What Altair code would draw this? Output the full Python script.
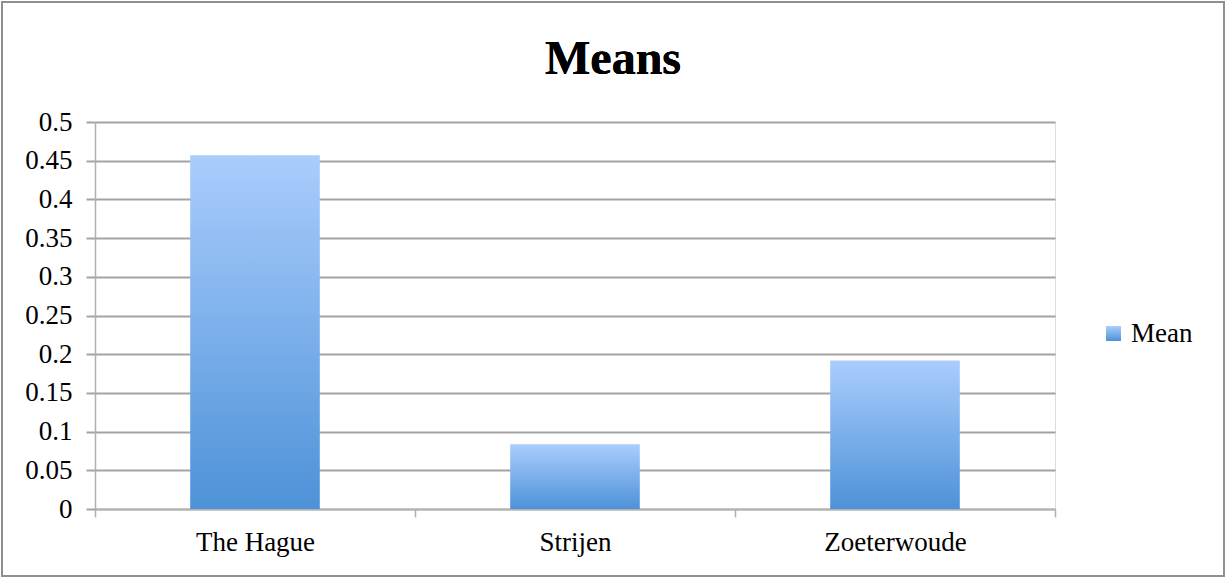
import altair as alt
import pandas as pd

# Mean value per municipality
places = ["The Hague", "Strijen", "Zoeterwoude"]
means = [0.457, 0.0835, 0.192]
series = ["Mean"] * len(places)
y_ticks = [0, 0.05, 0.1, 0.15, 0.2, 0.25, 0.3, 0.35, 0.4, 0.45, 0.5]
chart_title = "Means"

df = pd.DataFrame({"place": places, "mean": means, "series": series})

FONT = "Liberation Serif"
GRID = "#a3a3a3"

bar_fill = alt.Gradient(
    gradient="linear",
    stops=[
        alt.GradientStop(color="#aacdfd", offset=0),
        alt.GradientStop(color="#4d92d8", offset=1),
    ],
    x1=0, x2=0, y1=0, y2=1,
)

bars = alt.Chart(df).mark_bar(
    color=bar_fill, width=alt.RelativeBandSize(0.405)
).encode(
    x=alt.X(
        "place:N",
        sort=places,
        title=None,
        scale=alt.Scale(paddingInner=0, paddingOuter=0),
        axis=alt.Axis(
            labelAngle=0,
            labelFont=FONT,
            labelFontSize=27,
            labelColor="black",
            labelPadding=12,
            tickBand="extent",
            tickSize=8,
            tickColor="#b0b0b0",
            tickWidth=1.5,
            domainColor="#b0b0b0",
            domainWidth=1.5,
            grid=False,
        ),
    ),
    y=alt.Y(
        "mean:Q",
        title=None,
        scale=alt.Scale(domain=[0, 0.5], nice=False),
        axis=alt.Axis(
            values=y_ticks,
            format="~g",
            labelFont=FONT,
            labelFontSize=27,
            labelColor="black",
            labelPadding=14,
            tickSize=9,
            tickColor=GRID,
            tickWidth=2,
            domainColor="#b0b0b0",
            domainWidth=1.5,
            gridColor=GRID,
            gridWidth=2,
        ),
    ),
    opacity=alt.Opacity(
        "series:N",
        scale=alt.Scale(domain=["Mean"], range=[1]),
        legend=alt.Legend(
            title=None,
            orient="none",
            legendX=1005,
            legendY=198,
            symbolType="square",
            symbolSize=225,
            symbolFillColor="#7fb0ec",
            symbolStrokeWidth=0,
            labelFont=FONT,
            labelFontSize=27,
            labelColor="black",
            labelOffset=4,
        ),
    ),
)

# chart heading, centred on the full frame
heading = alt.Chart(df).mark_text(
    text=chart_title,
    font=FONT,
    fontSize=48,
    fontWeight="bold",
    color="black",
    align="center",
    baseline="alphabetic",
    clip=False,
).encode(x=alt.value(518), y=alt.value(-48))

frame = alt.Chart(df).mark_rect(
    fill=None, stroke="#8f8f8f", strokeWidth=2, clip=False
).encode(
    x=alt.value(-93),
    x2=alt.value(1129),
    y=alt.value(-120),
    y2=alt.value(454),
)

chart = (
    alt.layer(bars, heading, frame)
    .properties(
        width=960,
        height=387,
        autosize=alt.AutoSizeParams(type="none"),
        padding={"left": 95, "top": 122, "right": 171, "bottom": 69},
    )
    .configure_view(stroke=None)
    .configure(background="white")
)

chart.save("out.html", embed_options={"renderer": "svg", "actions": False})
